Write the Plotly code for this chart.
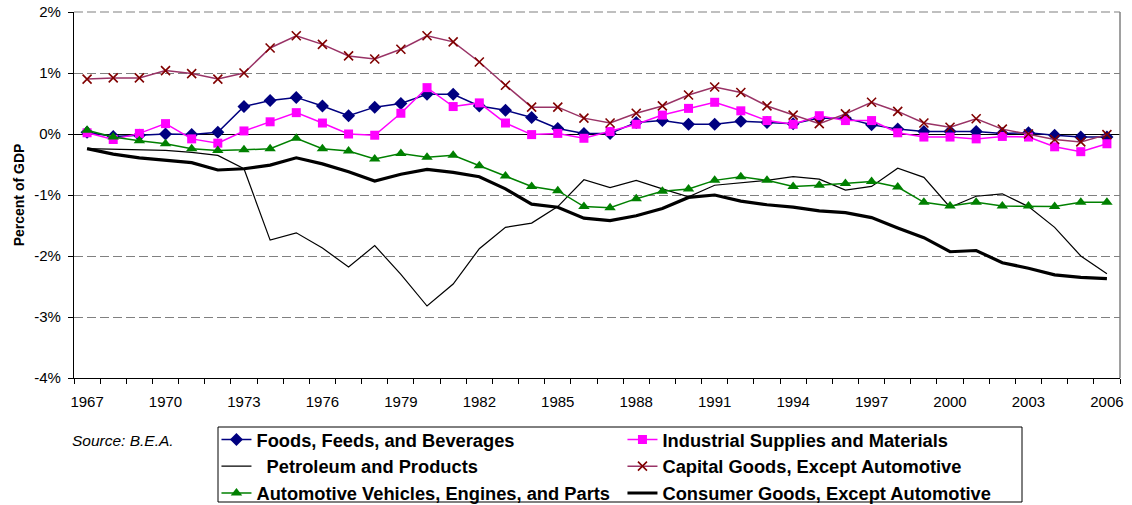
import plotly.graph_objects as go

years = list(range(1967, 2007))
tick_years = [1967, 1970, 1973, 1976, 1979, 1982, 1985, 1988, 1991, 1994, 1997, 2000, 2003, 2006]
y_ticks = [2, 1, 0, -1, -2, -3, -4]
y_ticktext = ["2%", "1%", "0%", "-1%", "-2%", "-3%", "-4%"]

foods = [0.03, -0.04, -0.02, 0.00, -0.01, 0.03, 0.45, 0.55, 0.60, 0.46,
         0.30, 0.44, 0.50, 0.65, 0.65, 0.46, 0.39, 0.27, 0.09, 0.01,
         0.01, 0.19, 0.22, 0.16, 0.16, 0.21, 0.19, 0.17, 0.26, 0.26,
         0.15, 0.08, 0.04, 0.04, 0.04, 0.01, 0.02, -0.02, -0.05, -0.05]
industrial = [0.02, -0.09, 0.01, 0.17, -0.08, -0.15, 0.05, 0.20, 0.35, 0.18,
              0.00, -0.02, 0.34, 0.76, 0.45, 0.51, 0.18, -0.01, 0.01, -0.07,
              0.04, 0.16, 0.31, 0.42, 0.52, 0.38, 0.22, 0.16, 0.30, 0.22,
              0.22, 0.02, -0.05, -0.05, -0.08, -0.04, -0.05, -0.21, -0.29, -0.16]
petroleum = [-0.24, -0.25, -0.25, -0.27, -0.30, -0.35, -0.57, -1.74, -1.62, -1.87,
             -2.18, -1.83, -2.30, -2.82, -2.46, -1.88, -1.53, -1.46, -1.19, -0.75,
             -0.88, -0.76, -0.90, -1.03, -0.84, -0.80, -0.76, -0.70, -0.74, -0.92,
             -0.86, -0.56, -0.71, -1.20, -1.02, -0.98, -1.19, -1.53, -2.00, -2.29]
capital = [0.90, 0.92, 0.92, 1.04, 0.99, 0.90, 1.00, 1.41, 1.61, 1.47,
           1.28, 1.23, 1.39, 1.61, 1.51, 1.18, 0.80, 0.44, 0.44, 0.26,
           0.18, 0.34, 0.46, 0.64, 0.77, 0.68, 0.46, 0.31, 0.17, 0.33,
           0.52, 0.37, 0.18, 0.11, 0.25, 0.08, 0.00, -0.09, -0.13, -0.01]
automotive = [0.06, -0.05, -0.11, -0.16, -0.24, -0.27, -0.26, -0.24, -0.07, -0.24,
              -0.28, -0.41, -0.32, -0.38, -0.35, -0.52, -0.69, -0.86, -0.93, -1.19,
              -1.21, -1.06, -0.94, -0.90, -0.76, -0.70, -0.76, -0.86, -0.84, -0.81,
              -0.78, -0.87, -1.12, -1.18, -1.12, -1.18, -1.18, -1.19, -1.12, -1.12]
consumer = [-0.24, -0.33, -0.39, -0.43, -0.47, -0.59, -0.57, -0.51, -0.39, -0.49,
            -0.62, -0.77, -0.66, -0.58, -0.63, -0.70, -0.90, -1.15, -1.20, -1.38,
            -1.42, -1.34, -1.22, -1.04, -1.00, -1.10, -1.16, -1.20, -1.26, -1.29,
            -1.37, -1.54, -1.70, -1.93, -1.91, -2.11, -2.20, -2.31, -2.35, -2.37]

FONT = "Arial, 'Liberation Sans', sans-serif"

fig = go.Figure()
fig.add_trace(go.Scatter(x=years, y=foods, name="Foods, Feeds, and Beverages",
                         mode="lines+markers", line=dict(color="#000080", width=1.5),
                         marker=dict(symbol="diamond", size=10, color="#000080")))
fig.add_trace(go.Scatter(x=years, y=industrial, name="Industrial Supplies and Materials",
                         mode="lines+markers", line=dict(color="#FF00FF", width=1.5),
                         marker=dict(symbol="square", size=9, color="#FF00FF")))
fig.add_trace(go.Scatter(x=years, y=petroleum, name="\u00a0\u00a0Petroleum and Products",
                         mode="lines", line=dict(color="#000000", width=1.2)))
fig.add_trace(go.Scatter(x=years, y=capital, name="Capital Goods, Except Automotive",
                         mode="lines+markers", line=dict(color="#993366", width=1.5),
                         marker=dict(symbol="x-thin", size=9, color="#800000",
                                     line=dict(color="#800000", width=1.6))))
fig.add_trace(go.Scatter(x=years, y=automotive, name="Automotive Vehicles, Engines, and Parts",
                         mode="lines+markers", line=dict(color="#008000", width=1.5),
                         marker=dict(symbol="triangle-up", size=10, color="#008000")))
fig.add_trace(go.Scatter(x=years, y=consumer, name="Consumer Goods, Except Automotive",
                         mode="lines", line=dict(color="#000000", width=3.2)))

boundaries = [y - 0.5 for y in years] + [years[-1] + 0.5]

fig.update_layout(
    width=1132, height=505,
    margin=dict(l=74, r=12, t=12, b=127, autoexpand=False),
    paper_bgcolor="white", plot_bgcolor="white",
    font=dict(family=FONT, color="black", size=15),
    showlegend=True,
    legend=dict(orientation="h", x=0.1362, y=-0.1175, xanchor="left", yanchor="top",
                entrywidth=361, entrywidthmode="pixels",
                font=dict(family=FONT, size=18.3, color="black", weight="bold"),
                bgcolor="rgba(0,0,0,0)", borderwidth=0, itemwidth=30,
                traceorder="normal"),
    xaxis=dict(range=[1966.5, 2006.5], tickmode="array", tickvals=tick_years,
               ticks="", showgrid=False, zeroline=False,
               showline=True, linecolor="black", linewidth=1.3,
               tickfont=dict(size=15), ticklabelstandoff=10, ticklabeloverflow="allow",
               minor=dict(tickmode="array", tickvals=boundaries, ticks="outside",
                          ticklen=5, tickwidth=1, tickcolor="black", showgrid=False)),
    yaxis=dict(range=[-4, 2], tickmode="array", tickvals=y_ticks, ticktext=y_ticktext,
               ticks="outside", ticklen=5, tickwidth=1, tickcolor="black",
               showline=True, linecolor="black", linewidth=1.3,
               showgrid=True, gridcolor="#808080", gridwidth=1.2, griddash="9px,4px",
               zeroline=True, zerolinecolor="black", zerolinewidth=1.3,
               tickfont=dict(size=15), ticklabelstandoff=4, ticklabeloverflow="allow",
               title=dict(text="Percent of GDP", standoff=6,
                          font=dict(size=14, weight="bold", family=FONT))),
    shapes=[
        dict(type="line", xref="paper", yref="paper", x0=0, x1=1, y0=1, y1=1,
             line=dict(color="#808080", width=1.2, dash="9px,4px")),
        dict(type="line", xref="paper", yref="paper", x0=1, x1=1, y0=0, y1=1,
             line=dict(color="#808080", width=1.5)),
        dict(type="rect", xref="paper", yref="paper",
             x0=(218 - 74) / 1046, x1=(1022 - 74) / 1046,
             y0=(378 - 427) / 366, y1=(378 - 502) / 366,
             line=dict(color="black", width=1), fillcolor="rgba(0,0,0,0)"),
    ],
    annotations=[
        dict(text="<i>Source: B.E.A.</i>", xref="paper", yref="paper",
             x=(70 - 74) / 1046, y=(378 - 440) / 366, xanchor="left", yanchor="middle",
             showarrow=False, font=dict(size=15.5, family=FONT, color="black")),
    ],
)

# remove the default 8px page margin so the figure fills the window exactly
fig.write_html("out.html",
               config={"displayModeBar": False},
               post_script="document.body.style.margin='0px';document.body.style.overflow='hidden';")
